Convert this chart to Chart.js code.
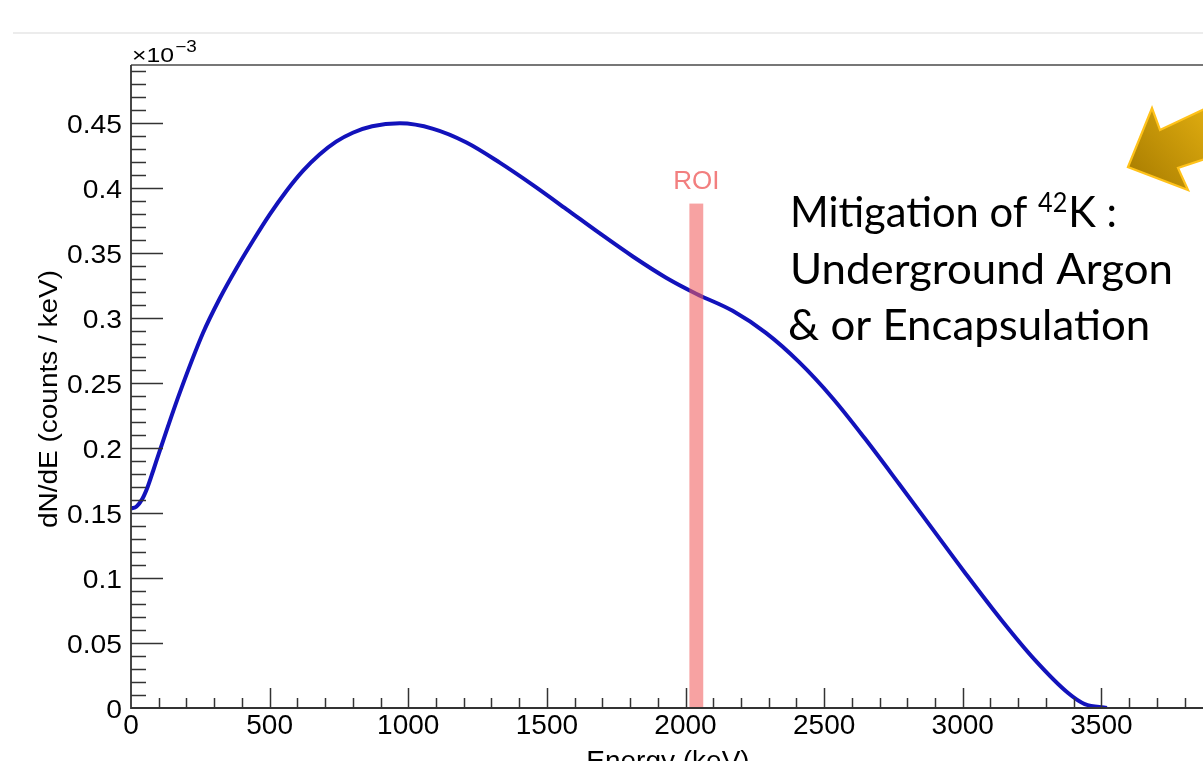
<!DOCTYPE html>
<html>
<head>
<meta charset="utf-8">
<script src="https://cdn.jsdelivr.net/npm/chart.js@4.4.1/dist/chart.umd.min.js"></script>
<style>
  html, body { margin:0; padding:0; background:#fff; overflow:hidden; width:1203px; height:761px; }
  #wrap { width:1300px; height:761px; }
</style>
</head>
<body>
<div id="wrap"><canvas id="c" width="1300" height="761"></canvas></div>
<script>
// ---- data (dN/dE in units of 1e-3 counts/keV) ----
const energy = [0, 20, 40, 60, 80, 100, 130, 175, 260, 320, 380, 440, 500, 560, 620, 680, 740, 800,
  870, 970, 1090, 1210, 1330, 1450, 1570, 1690, 1810, 1930, 2040, 2170, 2290, 2410, 2530, 2650,
  2770, 2890, 3010, 3140, 3260, 3380, 3440, 3520];
const dNdE = [0.1534, 0.1550, 0.1605, 0.1700, 0.1825, 0.1955, 0.2145, 0.2420, 0.2886, 0.3150,
  0.3381, 0.3594, 0.3795, 0.3975, 0.4131, 0.4257, 0.4356, 0.4425, 0.4475, 0.4497, 0.4455, 0.4350,
  0.4195, 0.4022, 0.3838, 0.3652, 0.3473, 0.3310, 0.3185, 0.3055, 0.2885, 0.2660, 0.2385, 0.2065,
  0.1725, 0.1380, 0.1035, 0.0675, 0.0370, 0.0115, 0.0030, 0.0];
const xTickLabels = ['0', '500', '1000', '1500', '2000', '2500', '3000', '3500'];
const yTickLabels = ['0', '0.05', '0.1', '0.15', '0.2', '0.25', '0.3', '0.35', '0.4', '0.45'];
const roiRange = [2014, 2064];
const roiTop = 0.388;
const roiLabel = 'ROI';
const xTitle = 'Energy (keV)';
const yTitle = 'dN/dE (counts / keV)';
const noteLine1 = ['Mitigation of ', '42', 'K :'];
const noteLine2 = 'Underground Argon';
const noteLine3 = '& or Encapsulation';

const points = energy.map((e, i) => ({x: e, y: dNdE[i]}));

const deco = {
  id: 'deco',
  afterDatasetsDraw(chart) {
    const {ctx, scales: {x, y}} = chart;
    const x0 = x.getPixelForValue(roiRange[0]), x1 = x.getPixelForValue(roiRange[1]);
    const yt = y.getPixelForValue(roiTop), yb = y.getPixelForValue(0);
    ctx.save();
    ctx.fillStyle = 'rgba(242,95,95,0.58)';
    ctx.fillRect(x0, yt, x1 - x0, yb - yt);
    ctx.restore();
  },
  afterDraw(chart) {
    const {ctx, scales: {x, y}, chartArea: ca} = chart;
    ctx.save();
    // faint slide line at top
    ctx.strokeStyle = '#ececec'; ctx.lineWidth = 2;
    ctx.beginPath(); ctx.moveTo(13, 33); ctx.lineTo(1300, 33); ctx.stroke();
    // frame top
    ctx.strokeStyle = '#777'; ctx.lineWidth = 1.8;
    ctx.beginPath(); ctx.moveTo(ca.left, ca.top); ctx.lineTo(1300, ca.top); ctx.stroke();
    // axes
    ctx.strokeStyle = '#333'; ctx.lineWidth = 1.8;
    ctx.beginPath();
    ctx.moveTo(ca.left, ca.top); ctx.lineTo(ca.left, ca.bottom); ctx.lineTo(1300, ca.bottom);
    ctx.stroke();
    // y ticks
    ctx.lineWidth = 1.5;
    for (let k = 1; k <= 49; k++) {
      const py = Math.round(y.getPixelForValue(k / 100)) + 0.5;
      const len = (k % 5 === 0) ? 32 : 15;
      ctx.beginPath(); ctx.moveTo(ca.left, py); ctx.lineTo(ca.left + len, py); ctx.stroke();
    }
    // x ticks
    for (let k = 1; k <= 40; k++) {
      const px = Math.round(x.getPixelForValue(k * 100)) + 0.5;
      const len = (k % 5 === 0) ? 20 : 10;
      ctx.beginPath(); ctx.moveTo(px, ca.bottom); ctx.lineTo(px, ca.bottom - len); ctx.stroke();
    }
    // y labels
    ctx.fillStyle = '#000';
    ctx.font = '25px "Liberation Sans", Arial, sans-serif';
    ctx.textAlign = 'right'; ctx.textBaseline = 'alphabetic';
    yTickLabels.forEach(l => {
      const py = y.getPixelForValue(parseFloat(l));
      ctx.save(); ctx.translate(ca.left - 9, py + 10); ctx.scale(1.13, 1);
      ctx.fillText(l, 0, 0); ctx.restore();
    });
    // x labels
    ctx.font = '28px "Liberation Sans", Arial, sans-serif';
    ctx.textAlign = 'center';
    xTickLabels.forEach(l => {
      ctx.fillText(l, x.getPixelForValue(parseFloat(l)), ca.bottom + 26);
    });
    // x10^-3
    ctx.textAlign = 'left';
    ctx.save(); ctx.translate(ca.left + 1, 62); ctx.scale(1.18, 1);
    ctx.font = '21px "Liberation Sans", Arial, sans-serif';
    ctx.fillText('\u00d710', 0, 0);
    const w10 = ctx.measureText('\u00d710').width;
    ctx.font = '16px "Liberation Sans", Arial, sans-serif';
    ctx.fillText('\u22123', w10 + 1, -10);
    ctx.restore();
    // x title
    ctx.font = '28px "Liberation Sans", Arial, sans-serif';
    ctx.textAlign = 'center';
    ctx.fillText(xTitle, 668, 770);
    // y title
    ctx.save();
    ctx.translate(57, 399); ctx.rotate(-Math.PI / 2);
    ctx.font = '26px "Liberation Sans", Arial, sans-serif';
    const wt = ctx.measureText(yTitle).width;
    ctx.scale(258 / wt, 1);
    ctx.textAlign = 'center';
    ctx.fillText(yTitle, 0, 0);
    ctx.restore();
    // ROI label
    ctx.fillStyle = '#f27f7f';
    ctx.font = '26px "Liberation Sans", Arial, sans-serif';
    ctx.textAlign = 'center';
    ctx.fillText(roiLabel, (x.getPixelForValue(roiRange[0]) + x.getPixelForValue(roiRange[1])) / 2, 189);
    // annotation text
    ctx.fillStyle = '#000';
    ctx.textAlign = 'left';
    const F = '"Lato", "Open Sans", sans-serif';
    ctx.font = '43px ' + F;
    const sx = 383 / ctx.measureText(noteLine2).width;
    ctx.font = '43px ' + F;
    let w1 = ctx.measureText(noteLine1[0]).width + ctx.measureText(noteLine1[2]).width;
    ctx.font = '26px ' + F;
    w1 += ctx.measureText(noteLine1[1]).width + 1;
    const sx1 = 327 / w1;
    ctx.save(); ctx.translate(790, 227); ctx.scale(sx1, 1);
    ctx.font = '43px ' + F;
    ctx.fillText(noteLine1[0], 0, 0);
    let cx = ctx.measureText(noteLine1[0]).width;
    ctx.font = '26px ' + F;
    ctx.fillText(noteLine1[1], cx, -15);
    cx += ctx.measureText(noteLine1[1]).width + 1;
    ctx.font = '43px ' + F;
    ctx.fillText(noteLine1[2], cx, 0);
    ctx.restore();
    ctx.save(); ctx.translate(790, 284); ctx.scale(sx, 1);
    ctx.font = '43px ' + F; ctx.fillText(noteLine2, 0, 0); ctx.restore();
    ctx.save(); ctx.translate(788, 340); ctx.scale(sx, 1);
    ctx.font = '43px ' + F; ctx.fillText(noteLine3, 0, 0); ctx.restore();
    // arrow
    const g = ctx.createLinearGradient(1128, 180, 1210, 110);
    g.addColorStop(0, '#a87c00'); g.addColorStop(1, '#e0ad10');
    ctx.beginPath();
    ctx.moveTo(1128, 167);
    ctx.lineTo(1152, 108);
    ctx.lineTo(1160, 130);
    ctx.lineTo(1215, 104);
    ctx.lineTo(1232, 150);
    ctx.lineTo(1178, 168);
    ctx.lineTo(1188, 190);
    ctx.closePath();
    ctx.fillStyle = g; ctx.fill();
    ctx.strokeStyle = '#ffc21a'; ctx.lineWidth = 2.2; ctx.lineJoin = 'miter';
    ctx.stroke();
    ctx.restore();
  }
};

new Chart(document.getElementById('c'), {
  type: 'line',
  data: {
    datasets: [{
      data: points,
      borderColor: '#1212bb',
      borderWidth: 4,
      pointRadius: 0,
      fill: false,
      cubicInterpolationMode: 'monotone'
    }]
  },
  options: {
    responsive: false,
    animation: false,
    devicePixelRatio: 1,
    layout: { padding: { left: 131, right: 60, top: 65, bottom: 53 } },
    plugins: { legend: { display: false }, tooltip: { enabled: false } },
    scales: {
      x: { type: 'linear', min: 0, max: 4000, display: false },
      y: { type: 'linear', min: 0, max: 0.4946, display: false }
    }
  },
  plugins: [deco]
});
</script>
</body>
</html>
